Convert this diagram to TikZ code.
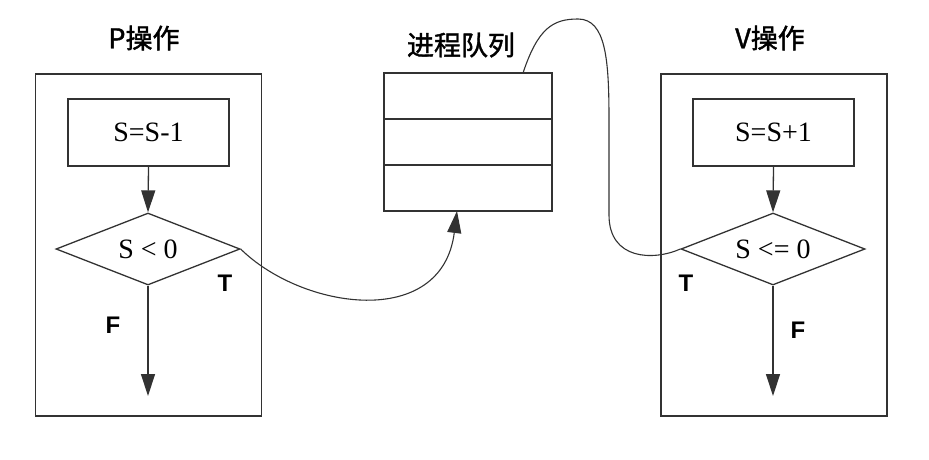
\documentclass[tikz,border=0pt]{standalone}
\usepackage{fontspec}
\setmainfont{Liberation Serif}
\setsansfont{Liberation Sans}
\newfontfamily\cjkfont[BoldFont={Noto Sans CJK SC}, BoldFeatures={FakeBold=1.5}]{Noto Sans CJK SC}
\usetikzlibrary{arrows.meta,positioning,shapes.geometric}
\definecolor{linegray}{RGB}{50,50,50}

\begin{document}
\begin{tikzpicture}[
    x=1pt, y=-1pt,
    line width=1.3pt,
    frame/.style={rectangle, draw=linegray, minimum width=226pt, minimum height=342pt, inner sep=0pt},
    opbox/.style={rectangle, draw=linegray, minimum width=161pt, minimum height=67pt, inner sep=0pt, font=\fontsize{28}{30}\selectfont},
    cond/.style={diamond, aspect=2.5, draw=linegray, minimum width=184pt, minimum height=72pt, inner sep=0pt, font=\fontsize{28}{30}\selectfont},
    slot/.style={rectangle, draw=linegray, minimum width=168pt, minimum height=46pt, inner sep=0pt, outer sep=0pt},
    title/.style={font=\cjkfont\bfseries\fontsize{27}{30}\selectfont},
    branch/.style={font=\sffamily\bfseries\fontsize{24}{26}\selectfont},
    arrow/.style={-{Triangle[length=22pt,width=14pt]}, draw=linegray},
    link/.style={draw=linegray, line width=1.1pt}
]
\useasboundingbox (0,0) rectangle (929,459);

% P operation
\node[title] (ptitle) at (144,38) {P操作};
\node[frame] (pframe) at (148.5,245) {};
\node[opbox] (pdec) at (148.5,132.5) {S=S-1};
\node[cond] (pcond) at (148,249) {S < 0};
\coordinate (pend) at (148,396);
\node[branch] (pfalse) at (113,325) {F};
\node[branch] (ptrue) at (225,283) {T};

% process queue
\node[title] (qtitle) at (461,45) {进程队列};
\node[slot] (q1) at (468,96) {};
\node[slot, below=0pt of q1] (q2) {};
\node[slot, below=0pt of q2] (q3) {};

% V operation
\node[title] (vtitle) at (770,38) {V操作};
\node[frame] (vframe) at (774,245) {};
\node[opbox] (vinc) at (773.5,132.5) {S=S+1};
\node[cond] (vcond) at (773,249) {S <= 0};
\coordinate (vend) at (773,396);
\node[branch] (vfalse) at (798,330) {F};
\node[branch] (vtrue) at (686,283) {T};

% arrows
\draw[arrow] (pdec.south) -- (pcond.north);
\draw[arrow] (pcond.south) -- (pend);
\draw[arrow] (vinc.south) -- (vcond.north);
\draw[arrow] (vcond.south) -- (vend);

% queue links
\coordinate (qin) at ([xshift=-11pt]q3.south);
\coordinate (qout) at ([xshift=55pt]q1.north);
\draw[arrow, line width=1.1pt] (pcond.east) .. controls +(62,61) and +(-15,119) .. (qin);
\draw[link] (qout) .. controls +(15,-45) and +(-25,0) .. (578,19)
    .. controls +(28,0) and +(0,-60) .. (609,120) -- (609,215)
    .. controls +(0,45) and +(-27,12) .. (vcond.west);

\end{tikzpicture}
\end{document}
